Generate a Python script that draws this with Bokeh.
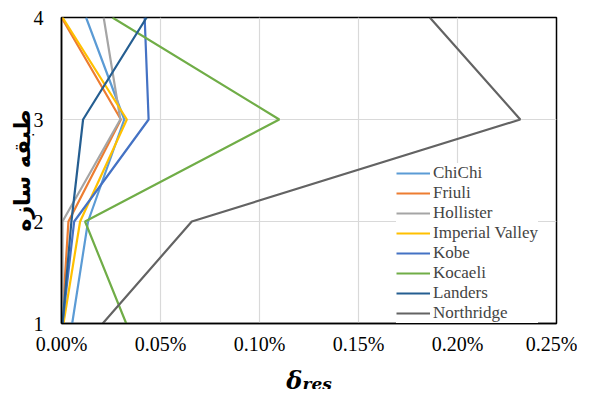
from bokeh.plotting import figure
from bokeh.models import Range1d, FixedTicker, PrintfTickFormatter, Legend, LegendItem
from bokeh.core.properties import value
from bokeh.layouts import column
from bokeh.embed import file_html
from bokeh.resources import INLINE

storeys = [1, 2, 3, 4]
names = ["ChiChi", "Friuli", "Hollister", "Imperial Valley", "Kobe", "Kocaeli", "Landers", "Northridge"]
colors = ["#5B9BD5", "#ED7D31", "#A5A5A5", "#FFC000", "#4472C4", "#70AD47", "#255E91", "#636363"]
x_ticks = [0, 0.05, 0.10, 0.15, 0.20, 0.25]
y_ticks = [1, 2, 3, 4]
# residual drift in percent, storey 1..4
chichi = [0.0054, 0.0134, 0.0317, 0.0124]
friuli = [0.0003, 0.0035, 0.0300, 0.0]
hollister = [0.0005, 0.0005, 0.0297, 0.0213]
imperial = [0.0010, 0.0094, 0.0330, 0.0005]
kobe = [0.0005, 0.0064, 0.0440, 0.0420]
kocaeli = [0.0327, 0.0119, 0.1100, 0.0257]
landers = [0.0005, 0.0050, 0.0109, 0.0430]
northridge = [0.0208, 0.0658, 0.2317, 0.1860]
series = [chichi, friuli, hollister, imperial, kobe, kocaeli, landers, northridge]

p = figure(width=577, height=357, output_backend="svg", toolbar_location=None,
           x_range=Range1d(0, 0.25), y_range=Range1d(1, 4),
           min_border_left=61, min_border_right=21, min_border_top=17, min_border_bottom=26)

items = []
for nm, c, vals in zip(names, colors, series):
    r = p.line(vals, storeys, line_color=c, line_width=2.2)
    items.append(LegendItem(label=nm, renderers=[r]))

p.xaxis.ticker = FixedTicker(ticks=x_ticks)
p.yaxis.ticker = FixedTicker(ticks=y_ticks)
p.xaxis.formatter = PrintfTickFormatter(format="%.2f%%")
for ax in (p.xaxis, p.yaxis):
    ax.major_label_text_font = "Liberation Serif"
    ax.major_label_text_font_size = "20px"
    ax.major_label_text_color = "black"
    ax.axis_line_color = "black"
    ax.axis_line_width = 1.5
    ax.major_tick_line_color = None
    ax.minor_tick_line_color = None
p.xaxis.major_label_standoff = 3
p.yaxis.major_label_standoff = 12
p.yaxis.axis_label = "طبقه سازه"
p.yaxis.axis_label_text_font = "DejaVu Sans"
p.yaxis.axis_label_text_font_style = "bold"
p.yaxis.axis_label_text_font_size = "22px"
p.yaxis.axis_label_text_color = "black"
p.yaxis.axis_label_standoff = -4

p.xgrid.grid_line_color = "#D9D9D9"
p.ygrid.grid_line_color = "#D9D9D9"
p.xgrid.grid_line_width = 1.2
p.ygrid.grid_line_width = 1.2
p.outline_line_color = "black"
p.outline_line_width = 1.5

legend = Legend(items=items, location=(335, 0), glyph_width=34, glyph_height=14,
                label_text_font="Liberation Serif", label_text_font_size="17px",
                label_standoff=3, spacing=0, padding=4, border_line_color=None,
                background_fill_alpha=1.0, label_height=20)
p.add_layout(legend, "center")

# x-axis title row: delta with subscript "res"
q = figure(width=577, height=32, output_backend="svg", toolbar_location=None,
           x_range=Range1d(0, 577), y_range=Range1d(0, 32),
           x_axis_location=None, y_axis_location=None,
           min_border_left=0, min_border_right=0, min_border_top=0, min_border_bottom=0)
q.grid.visible = False
q.outline_line_color = None
q.text(x=[262], y=[9], text=["δ"], text_font=value("DejaVu Serif"), text_font_style="bold italic",
       text_font_size="24px", text_color="black", text_baseline="alphabetic", text_align="left")
q.text(x=[281], y=[6], text=["res"], text_font=value("DejaVu Serif"), text_font_style="bold italic",
       text_font_size="17px", text_color="black", text_baseline="alphabetic", text_align="left")

layout = column(p, q, spacing=0)
open("out.html", "w").write(file_html(layout, INLINE))
